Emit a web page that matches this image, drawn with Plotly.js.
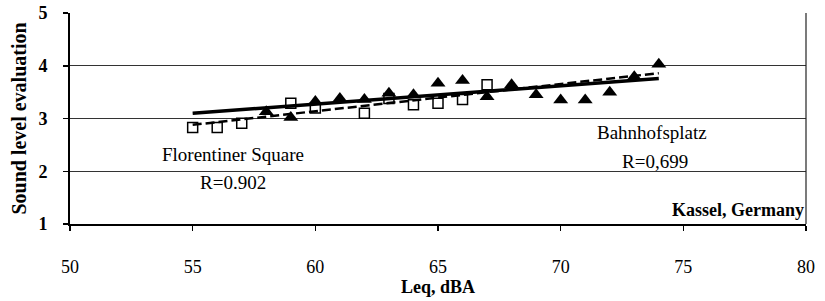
<!DOCTYPE html>
<html>
<head>
<meta charset="utf-8">
<script src="https://cdn.plot.ly/plotly-3.0.1.min.js"></script>
<style>html,body{margin:0;padding:0;background:#fff}#chart{width:825px;height:301px}</style>
</head>
<body>
<div id="chart"></div>
<script>
// Florentiner Square (open squares)
const florLeq = [55, 56, 57, 59, 60, 62, 63, 64, 65, 66, 67];
const florEval = [2.83, 2.83, 2.91, 3.29, 3.20, 3.10, 3.38, 3.26, 3.29, 3.36, 3.64];
// Bahnhofsplatz (filled triangles)
const bahnLeq = [58, 59, 60, 61, 62, 63, 64, 65, 66, 67, 68, 69, 70, 71, 72, 73, 74];
const bahnEval = [3.13, 3.02, 3.32, 3.38, 3.36, 3.48, 3.45, 3.67, 3.72, 3.41, 3.64, 3.45, 3.35, 3.35, 3.50, 3.79, 4.03];
// Trend lines
const trendLeq = [55, 74];
const florTrend = [2.88, 3.86];
const bahnTrend = [3.10, 3.76];
// Axis ticks
const xTicks = [50, 55, 60, 65, 70, 75, 80];
const yTicks = [1, 2, 3, 4, 5];

const serif = "Liberation Serif";

const traces = [
  {x: trendLeq, y: bahnTrend, mode: 'lines', line: {color: '#000', width: 3.5}, hoverinfo: 'skip'},
  {x: trendLeq, y: florTrend, mode: 'lines', line: {color: '#000', width: 2.5, dash: '9px,4px'}, hoverinfo: 'skip'},
  {x: florLeq, y: florEval, mode: 'markers', marker: {symbol: 'square-open', size: 10, color: '#000', line: {width: 1.5, color: '#000'}}},
  {x: bahnLeq, y: bahnEval, mode: 'markers', marker: {symbol: 'triangle-up', size: 13, color: '#000'}}
];

const layout = {
  width: 825, height: 301,
  margin: {l: 70, r: 19, t: 13, b: 77},
  paper_bgcolor: '#fff', plot_bgcolor: '#fff',
  showlegend: false,
  font: {family: serif, color: '#000', size: 18},
  xaxis: {
    range: [50, 80], tickvals: xTicks, ticktext: xTicks.map(String),
    showgrid: false, zeroline: false,
    showline: true, linecolor: '#000', linewidth: 2,
    ticks: 'outside', ticklen: 5, tickwidth: 1.5, tickcolor: '#000',
    ticklabelstandoff: 20,
    tickfont: {family: serif, size: 18, color: '#000'},
    title: {text: '<b>Leq, dBA</b>', font: {family: serif, size: 18, color: '#000'}, standoff: 2}
  },
  yaxis: {
    range: [1, 5], tickvals: yTicks, ticktext: yTicks.map(v => '<b>' + v + '</b>'),
    showgrid: true, gridcolor: '#333', gridwidth: 1, zeroline: false,
    showline: true, linecolor: '#000', linewidth: 2,
    ticks: 'outside', ticklen: 5, tickwidth: 1.5, tickcolor: '#000',
    ticklabelstandoff: 12,
    tickfont: {family: serif, size: 18, color: '#000'},
    title: {text: '<b>Sound level evaluation</b>', font: {family: serif, size: 20, color: '#000'}, standoff: 6}
  },
  shapes: [
    {type: 'line', xref: 'paper', yref: 'paper', x0: 1, x1: 1, y0: 0, y1: 1, line: {color: '#222', width: 1.2}}
  ],
  annotations: [
    {x: 56.65, y: 2.31, xref: 'x', yref: 'y', text: 'Florentiner Square', showarrow: false, font: {family: serif, size: 19, color: '#000'}},
    {x: 56.65, y: 1.78, xref: 'x', yref: 'y', text: 'R=0.902', showarrow: false, font: {family: serif, size: 19, color: '#000'}},
    {x: 73.73, y: 2.74, xref: 'x', yref: 'y', text: 'Bahnhofsplatz', showarrow: false, font: {family: serif, size: 19, color: '#000'}},
    {x: 73.85, y: 2.18, xref: 'x', yref: 'y', text: 'R=0,699', showarrow: false, font: {family: serif, size: 19, color: '#000'}},
    {x: 1, y: 1.27, xref: 'paper', yref: 'y', xanchor: 'right', text: '<b>Kassel, Germany</b>', showarrow: false, font: {family: serif, size: 18, color: '#000'}}
  ]
};

Plotly.newPlot('chart', traces, layout, {displayModeBar: false, staticPlot: true});
</script>
</body>
</html>
